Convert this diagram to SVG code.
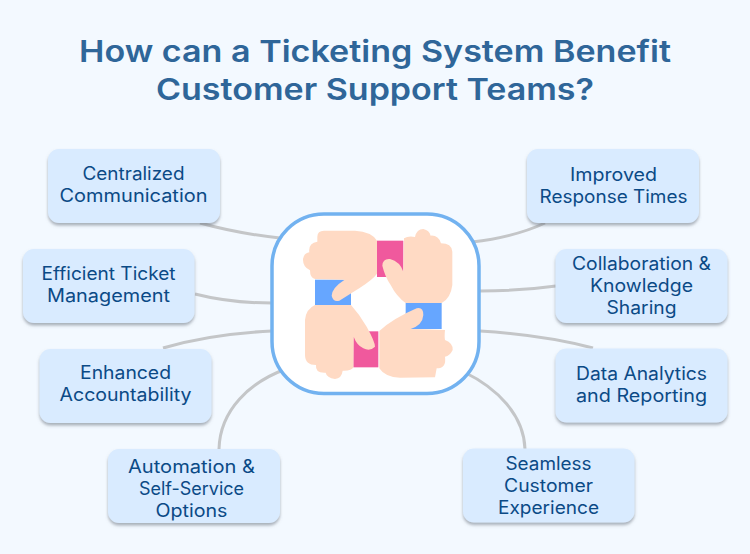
<svg xmlns="http://www.w3.org/2000/svg" width="750" height="554" viewBox="0 0 750 554">
  <defs>
    <filter id="cardShadow" x="-10%" y="-10%" width="120%" height="125%">
      <feDropShadow dx="0" dy="2.5" stdDeviation="1.6" flood-color="#6b7280" flood-opacity="0.55"/>
    </filter>
  </defs>
  <style>
    .card { fill: #d9ebff; filter: url(#cardShadow); }
    .label { font-family: "Inter", "Noto Sans", sans-serif; font-size: 18px; fill: #0b4a86; text-anchor: middle; }
    .title { font-family: "Inter", "Noto Sans", sans-serif; font-size: 30px; font-weight: 600; fill: #2f6699; text-anchor: middle; }
    .link { fill: none; stroke: #c4c6c8; stroke-width: 3; }
    .skin { fill: #ffdac4; }
    .pink { fill: #f0599d; }
    .blue { fill: #66a6ff; }
  </style>
  <rect width="750" height="554" fill="#f3f9ff"/>
  <g id="heading">
    <text class="title" x="375" y="62" textLength="592" lengthAdjust="spacingAndGlyphs">How can a Ticketing System Benefit</text>
    <text class="title" x="375" y="100" textLength="438" lengthAdjust="spacingAndGlyphs">Customer Support Teams?</text>
  </g>
  <g id="connectors">
    <path class="link" d="M200 223 Q240 234 284 238.500"/>
    <path class="link" d="M195 294 Q230 303 272 303"/>
    <path class="link" d="M163 348 Q210 334 272 331"/>
    <path class="link" d="M219 449 C220 410 250 382 286 369"/>
    <path class="link" d="M545 223 Q515 237 472 242"/>
    <path class="link" d="M556 286 Q520 291 480 291"/>
    <path class="link" d="M593 348 Q545 335 480 331"/>
    <path class="link" d="M525 449 C524 415 497 388 464 372"/>
  </g>
  <g id="hub">
    <rect x="272" y="214" width="207" height="179.500" rx="52" ry="52" fill="#ffffff" stroke="#72b2f0" stroke-width="3.500"/>
    <g transform="translate(260 205) scale(0.33333)">
      <rect class="pink" x="351" y="107" width="79" height="109"/>
      <rect class="blue" x="165" y="224" width="108" height="76"/>
      <rect class="blue" x="437" y="294" width="108" height="78"/>
      <rect class="pink" x="280" y="379" width="75" height="108"/>
      <!-- four interlocked hands, one per quadrant -->
      <path class="skin" d="M172 95 Q172 77 192 77 L285 77 Q335 80 351 107 L351 206 Q340 222 300 248 L238 287 Q220 293 215 272 Q216 248 254 224 L165 222 Q150 220 150 196 Q128 185 129 162 Q132 144 148 142 Q144 115 172 110 Z"/>
      <path class="skin" d="M432 100 Q445 92 465 96 Q470 72 490 72 Q508 76 512 92 Q535 90 543 115 Q575 115 577 140 L577 240 Q572 280 545 294 L437 294 Q410 275 392 240 Q375 215 367 182 Q368 160 390 162 Q420 170 430 200 Z"/>
      <path class="skin" d="M555 375 Q553 395 555 405 Q580 415 578 435 Q570 452 555 455 Q560 490 530 490 L525 517 L420 518 Q375 517 358 490 L358 378 Q400 340 470 310 Q490 305 490 330 Q488 360 452 372 Z"/>
      <path class="skin" d="M135 450 L135 345 Q138 312 165 300 L273 300 Q300 330 320 365 Q345 410 345 425 Q330 440 310 430 Q290 420 281 395 L280 487 Q275 498 248 497 Q245 520 225 522 Q200 518 197 503 Q165 505 168 480 Q135 480 135 450 Z"/>
    </g>
  </g>
  <g id="node-centralized">
    <rect class="card" x="48" y="149" width="172" height="74" rx="11"/>
    <text class="label" x="133.500" y="180" textLength="102" lengthAdjust="spacingAndGlyphs">Centralized</text>
    <text class="label" x="133.500" y="202" textLength="148" lengthAdjust="spacingAndGlyphs">Communication</text>
  </g>
  <g id="node-efficient">
    <rect class="card" x="23" y="249" width="171.500" height="74" rx="11"/>
    <text class="label" x="108.500" y="280" textLength="134" lengthAdjust="spacingAndGlyphs">Efficient Ticket</text>
    <text class="label" x="108.500" y="302" textLength="123" lengthAdjust="spacingAndGlyphs">Management</text>
  </g>
  <g id="node-accountability">
    <rect class="card" x="39.500" y="349" width="172" height="74" rx="11"/>
    <text class="label" x="125.500" y="379" textLength="91" lengthAdjust="spacingAndGlyphs">Enhanced</text>
    <text class="label" x="125.500" y="401" textLength="132" lengthAdjust="spacingAndGlyphs">Accountability</text>
  </g>
  <g id="node-automation">
    <rect class="card" x="108" y="449" width="172" height="74" rx="11"/>
    <text class="label" x="191.500" y="473" textLength="127" lengthAdjust="spacingAndGlyphs">Automation &amp;</text>
    <text class="label" x="191.500" y="495" textLength="105" lengthAdjust="spacingAndGlyphs">Self-Service</text>
    <text class="label" x="191.500" y="517" textLength="72" lengthAdjust="spacingAndGlyphs">Options</text>
  </g>
  <g id="node-response">
    <rect class="card" x="527" y="149" width="172" height="74" rx="11"/>
    <text class="label" x="613.500" y="181" textLength="87" lengthAdjust="spacingAndGlyphs">Improved</text>
    <text class="label" x="613.500" y="203" textLength="148" lengthAdjust="spacingAndGlyphs">Response Times</text>
  </g>
  <g id="node-collaboration">
    <rect class="card" x="555.500" y="249" width="172" height="74" rx="11"/>
    <text class="label" x="641.500" y="270" textLength="139" lengthAdjust="spacingAndGlyphs">Collaboration &amp;</text>
    <text class="label" x="641.500" y="292" textLength="103" lengthAdjust="spacingAndGlyphs">Knowledge</text>
    <text class="label" x="641.500" y="314" textLength="70" lengthAdjust="spacingAndGlyphs">Sharing</text>
  </g>
  <g id="node-analytics">
    <rect class="card" x="555.500" y="348.500" width="172" height="74" rx="11"/>
    <text class="label" x="641.500" y="380" textLength="131" lengthAdjust="spacingAndGlyphs">Data Analytics</text>
    <text class="label" x="641.500" y="402" textLength="131" lengthAdjust="spacingAndGlyphs">and Reporting</text>
  </g>
  <g id="node-experience">
    <rect class="card" x="463" y="448.500" width="171.500" height="74" rx="11"/>
    <text class="label" x="548.500" y="470" textLength="86" lengthAdjust="spacingAndGlyphs">Seamless</text>
    <text class="label" x="548.500" y="492" textLength="89" lengthAdjust="spacingAndGlyphs">Customer</text>
    <text class="label" x="548.500" y="514" textLength="101" lengthAdjust="spacingAndGlyphs">Experience</text>
  </g>
</svg>
